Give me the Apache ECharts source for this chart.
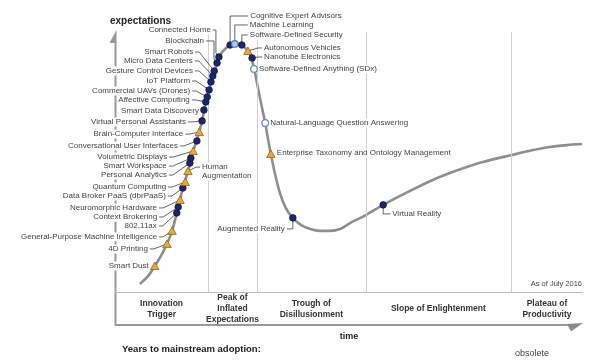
<!DOCTYPE html>
<html><head><meta charset="utf-8">
<script src="https://cdn.jsdelivr.net/npm/echarts@6/dist/echarts.min.js"></script>
<style>html,body{margin:0;padding:0;background:#fff}#c{width:600px;height:360px}</style>
</head><body><div id="c"></div>
<script>
// Hype curve: time (0-100) vs expectations (0-100)
const curveTime = [5.3,7.1,8.5,9.8,11.1,12.2,13.2,13.9,14.5,15.6,16.7,17.5,18.6,19.4,20.1,20.9,21.8,22.4,23.3,24.6,25.9,27.1,28.2,29.1,29.7,30.3,31.2,32.1,32.7,33.3,34.2,35.3,36.5,38.0,39.7,41.7,43.8,45.9,48.1,50.2,53.6,57.3,62.6,67.9,73.3,78.6,84.8,89.3,92.9,96.6,99.8];
const curveExpect = [3.1,6.2,10.0,13.8,18.5,23.5,30.4,35.4,40.0,46.5,54.2,58.5,65.8,73.1,77.7,83.1,87.7,90.8,93.1,95.0,95.6,95.0,93.1,90.4,86.2,80.8,72.7,65.0,58.8,53.1,45.4,37.7,32.3,28.5,25.8,24.2,23.5,23.5,24.2,26.5,29.6,33.5,38.5,43.1,46.9,50.0,52.7,54.6,55.8,56.5,56.9];

const phaseBounds = [0, 19.9, 30.3, 53.6, 84.6, 100];
const phaseNames = ['Innovation\nTrigger', 'Peak of\nInflated\nExpectations', 'Trough of\nDisillusionment', 'Slope of Enlightenment', 'Plateau of\nProductivity'];

const techNames = ['Smart Dust','4D Printing','General-Purpose Machine Intelligence','802.11ax','Context Brokering','Neuromorphic Hardware','Data Broker PaaS (dbrPaaS)','Quantum Computing','Human\nAugmentation','Personal Analytics','Smart Workspace','Volumetric Displays','Conversational User Interfaces','Brain-Computer Interface','Virtual Personal Assistants','Smart Data Discovery','Affective Computing','Commercial UAVs (Drones)','IoT Platform','Gesture Control Devices','Micro Data Centers','Smart Robots','Blockchain','Connected Home','Cognitive Expert Advisors','Machine Learning','Software-Defined Security','Autonomous Vehicles','Nanotube Electronics','Software-Defined Anything (SDx)','Natural-Language Question Answering','Enterprise Taxonomy and Ontology Management','Augmented Reality','Virtual Reality'];
const techTime = [8.5,11.1,12.2,13.2,13.5,13.9,14.5,15.0,15.6,16.0,16.2,16.7,17.5,18.0,18.6,19.0,19.4,19.7,20.1,20.5,20.9,21.2,21.8,22.2,24.6,25.6,27.1,28.4,29.3,29.7,32.1,33.3,38.0,57.3];
const techExpect = [10.0,18.5,23.5,30.4,32.7,35.4,40.0,42.3,46.5,49.6,51.5,54.2,58.1,61.5,65.8,70.0,73.1,75.0,77.7,80.8,83.1,85.0,88.1,90.4,95.0,95.4,95.0,92.7,90.0,85.8,65.0,53.1,28.5,33.5];
// years to mainstream adoption: lt2 (hollow), 2to5 (light), 5to10 (dark), gt10 (triangle)
const techAdoption = ['gt10','gt10','gt10','5to10','5to10','gt10','5to10','gt10','gt10','5to10','5to10','gt10','5to10','gt10','5to10','5to10','5to10','5to10','5to10','5to10','5to10','5to10','5to10','5to10','5to10','2to5','5to10','gt10','5to10','lt2','lt2','gt10','5to10','5to10'];

// label layout (pixel offsets from marker), kept separate from data
const labelDX = [-6,-19,-15,-20,-21,-23,-17,-19,14,-23,-24,-26,-19,-16,-16,-5,-16,-17,-19,-18,-20,-21,-13,-8,20,15,8,16,12,5,5,6,-8,9];
const labelDY = [0,5,6,13,10,8,8,5,-4,12,8,6,5,2,1,1,-2,-6,-9,-11,-15,-19,-22,-27,-29,-19,-10,-3,-1,0,0,-1,11,9];
const labelSide = ['l','l','l','l','l','l','l','l','r','l','l','l','l','l','l','l','l','l','l','l','l','l','l','l','r','r','r','r','r','r','r','r','l','r'];
const leaderKind = ['none','std','std','std','std','std','std','std','std','std','std','std','std','std','std','none','std','std','std','std','std','std','drop','drop','L','L','L','std','std','none','none','none','L','L'];

const FONT = '"Liberation Sans", Arial, sans-serif';
const chart = echarts.init(document.getElementById('c'), null, {renderer: 'canvas'});

function renderTech(params, api) {
  const i = api.value(2);
  const p = api.coord([api.value(0), api.value(1)]);
  const mx = p[0], my = p[1];
  const ax = mx + labelDX[i], ay = my + labelDY[i];
  const side = labelSide[i], kind = leaderKind[i];
  const s = side === 'l' ? 1 : -1;
  const children = [];
  let pts = null;
  if (kind === 'std') pts = [[ax + 2 * s, ay], [ax + 6 * s, ay], [mx, my]];
  else if (kind === 'L') pts = [[mx, my], [mx, ay], [ax + 2 * s, ay]];
  else if (kind === 'drop') pts = [[ax + 2, ay], [mx - 3, ay], [mx - 3, my - 4], [mx, my]];
  if (pts) children.push({type: 'polyline', z2: 1, shape: {points: pts}, style: {stroke: '#555', lineWidth: 0.9, fill: null}});
  children.push({type: 'text', z2: 2, style: {
    text: techNames[i], x: ax, y: ay - 4.5,
    align: side === 'l' ? 'right' : 'left', verticalAlign: 'top',
    font: '8px ' + FONT, fill: '#444', lineHeight: 9,
    backgroundColor: '#fff'
  }});
  const a = techAdoption[i];
  if (a === 'gt10') {
    children.push({type: 'polygon', z2: 3, shape: {points: [[mx - 4.2, my + 3.5], [mx + 4.2, my + 3.5], [mx, my - 4]]},
      style: {fill: '#eda83a', stroke: '#8d6519', lineWidth: 0.8}});
  } else {
    const st = a === '5to10' ? {fill: '#1c2568', stroke: '#121a4d', lineWidth: 0.8}
      : a === '2to5' ? {fill: '#a8cbe8', stroke: '#4f77ad', lineWidth: 1.2}
      : {fill: '#fff', stroke: '#6f8fbf', lineWidth: 1.3};
    children.push({type: 'circle', z2: 3, shape: {cx: mx, cy: my, r: 3.3}, style: st});
  }
  return {type: 'group', children};
}

const option = {
  animation: false,
  backgroundColor: '#fff',
  grid: {left: 115, right: 17, top: 32, bottom: 68},
  xAxis: {type: 'value', min: 0, max: 100, show: false},
  yAxis: {type: 'value', min: 0, max: 100, show: false},
  series: [
    {
      type: 'line', smooth: 0.3, showSymbol: false, symbol: 'none', z: 2,
      data: curveTime.map((t, k) => [t, curveExpect[k]]),
      lineStyle: {color: '#8e8e8e', width: 2.6},
      markLine: {
        silent: true, symbol: 'none', label: {show: false},
        lineStyle: {color: '#cfcfcf', width: 1, type: 'solid'},
        data: phaseBounds.slice(1, -1).map(b => ({xAxis: b}))
      },
      markArea: {
        silent: true, itemStyle: {color: 'rgba(0,0,0,0)'},
        label: {show: true, position: 'bottom', distance: 17, verticalAlign: 'middle', align: 'center',
          fontFamily: FONT, fontSize: 8.5, fontWeight: 'bold', color: '#333', lineHeight: 11},
        data: phaseNames.map((n, k) => [{xAxis: phaseBounds[k], name: n}, {xAxis: phaseBounds[k + 1]}])
      }
    },
    {
      type: 'custom', z: 5, clip: false,
      data: techTime.map((t, k) => [t, techExpect[k], k]),
      encode: {x: 0, y: 1},
      renderItem: renderTech
    }
  ],
  graphic: [
    {type: 'line', z: 0, shape: {x1: 115.5, y1: 42, x2: 115.5, y2: 326}, style: {stroke: '#999', lineWidth: 2}},
    {type: 'polygon', z: 0, shape: {points: [[109.5, 43], [116.5, 30], [116.5, 43]]}, style: {fill: '#999'}},
    {type: 'line', z: 0, shape: {x1: 115, y1: 292.5, x2: 583, y2: 292.5}, style: {stroke: '#bdbdbd', lineWidth: 1}},
    {type: 'line', z: 0, shape: {x1: 115, y1: 325, x2: 572, y2: 325}, style: {stroke: '#999', lineWidth: 2}},
    {type: 'polygon', z: 0, shape: {points: [[567, 324], [583, 323], [571, 331.5]]}, style: {fill: '#8a8a8a'}},
    {type: 'text', z: 1, style: {text: 'expectations', x: 110, y: 21, verticalAlign: 'middle', font: 'bold 10px ' + FONT, fill: '#222'}},
    {type: 'text', z: 1, style: {text: 'As of July 2016', x: 582, y: 284, align: 'right', verticalAlign: 'middle', font: '7.5px ' + FONT, fill: '#444'}},
    {type: 'text', z: 1, style: {text: 'time', x: 349, y: 337, align: 'center', verticalAlign: 'middle', font: 'bold 9px ' + FONT, fill: '#222'}},
    {type: 'text', z: 1, style: {text: 'Years to mainstream adoption:', x: 122, y: 349, verticalAlign: 'middle', font: 'bold 9.5px ' + FONT, fill: '#222'}},
    {type: 'text', z: 1, style: {text: 'obsolete', x: 532, y: 354, align: 'center', verticalAlign: 'middle', font: '9px ' + FONT, fill: '#444'}}
  ]
};
chart.setOption(option);
</script>
</body></html>
